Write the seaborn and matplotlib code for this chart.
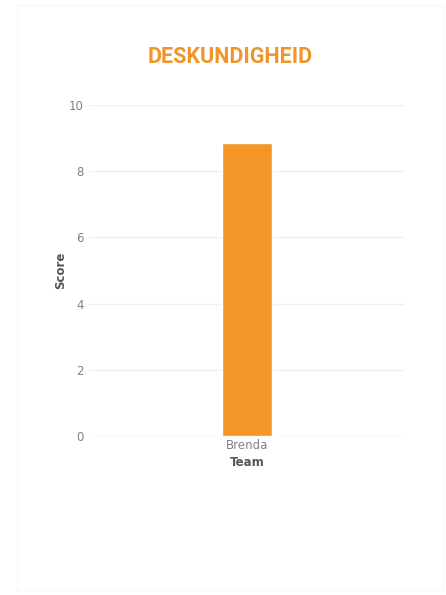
import pandas as pd
import matplotlib
matplotlib.use('Agg')
import matplotlib.pyplot as plt
import seaborn as sns
from matplotlib.patches import Rectangle

# Chart data
teams = ['Brenda']
scores = [8.85]
y_ticks = [0, 2, 4, 6, 8, 10]

df = pd.DataFrame({'Team': teams, 'Score': scores})

sns.set_style('white')
plt.rcParams['font.family'] = ['DejaVu Sans']

fig = plt.figure(figsize=(4.46, 5.95), dpi=100)

# faint card outline
fig.patches.append(Rectangle((17 / 446, 5 / 595), 426 / 446, 585 / 595,
                             transform=fig.transFigure, fill=False,
                             edgecolor='#fbf9ee', linewidth=1))

ax = fig.add_axes([0.1996, 0.2672, 0.7085, 0.5563])
sns.barplot(data=df, x='Team', y='Score', color='#F39527', width=0.158,
            saturation=1, ax=ax, zorder=3)

ax.set_xlim(-0.5, 0.5)
ax.set_ylim(0, 10)
ax.set_yticks(y_ticks)
ax.yaxis.grid(True, color='#f0f0f0', linewidth=1, zorder=0)
ax.axhline(0, color='#e8e8e8', linewidth=1, zorder=1)
sns.despine(ax=ax, left=True, bottom=True, top=True, right=True)
ax.tick_params(axis='both', length=0, labelsize=8.5, labelcolor='#808080')
ax.tick_params(axis='y', pad=4)
ax.tick_params(axis='x', pad=2)

ax.set_xlabel('Team', fontsize=8.5, fontweight='bold', color='#555555', labelpad=3)
ax.set_ylabel('Score', fontsize=8.5, fontweight='bold', color='#555555', labelpad=1)

fig.text(0.517, 1 - 57 / 595, 'DESKUNDIGHEID', ha='center', va='center',
         fontsize=15.5, fontweight='bold', color='#F0952A', family=['Roboto', 'DejaVu Sans'])

fig.savefig('out.png', dpi=100)
